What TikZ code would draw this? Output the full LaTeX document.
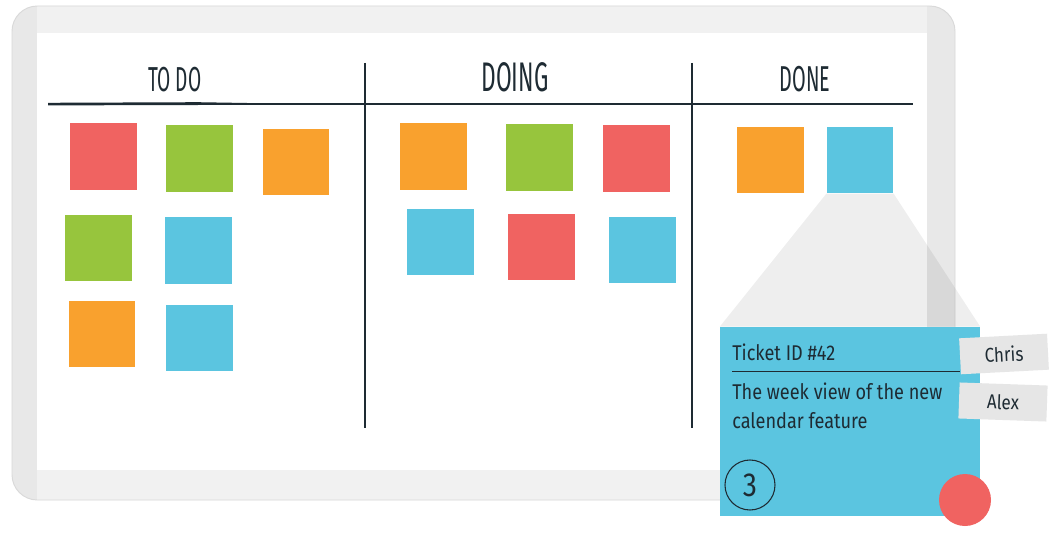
\documentclass[tikz,border=0pt]{standalone}
\usepackage{fontspec}
\setmainfont{Fira Sans}
\newfontfamily\headfont{Fira Sans}[FakeStretch=0.55]
\newfontfamily\cardfont{Fira Sans}[FakeStretch=0.85]
\definecolor{notered}{HTML}{F06361}
\definecolor{notegreen}{HTML}{97C53D}
\definecolor{noteorange}{HTML}{F9A12E}
\definecolor{noteblue}{HTML}{5BC5E0}
\definecolor{frame}{HTML}{F1F1F1}
\definecolor{frameside}{HTML}{E8E8E8}
\definecolor{tag}{HTML}{E6E6E6}
\definecolor{ink}{HTML}{1E2B33}
\begin{document}
\begin{tikzpicture}[x=0.75pt,y=-0.75pt,
  note/.style={fill=#1,minimum size=50pt,inner sep=0pt},
  heading/.style={text=ink,font=\headfont\fontsize{#1}{#1}\selectfont},
  tagbox/.style={fill=tag,minimum width=66pt,minimum height=27pt,inner sep=0pt,text=ink,font=\cardfont\fontsize{15}{15}\selectfont}]
\useasboundingbox[fill=white] (0,0) rectangle (1057,535);

% board
\fill[frameside,rounded corners=19pt] (12,6) rectangle (955,500);
\fill[frame] (37,6) rectangle (927,500);
\fill[white] (37,33) rectangle (927,470);
\draw[black!15,line width=0.7pt,rounded corners=19pt] (12,6) rectangle (955,500);

% columns
\node[heading=26] (todo) at (175,80) {TO DO};
\node[heading=31] (doing) at (515,77) {DOING};
\node[heading=27] (done) at (805,79) {DONE};
\coordinate (rulel) at (48,104);
\coordinate (ruler) at (913,104);
\draw[ink,line width=0.8pt] (rulel) -- (ruler);
\fill[ink] (rulel) ++(0,-1.2) -- ++(150,-0.6) -- ++(110,1.8) -- ++(-110,1) -- ++(-150,0.4) -- cycle;
\draw[ink,line width=1.1pt] (365,63) -- (365,428);
\draw[ink,line width=1.1pt] (692,63) -- (692,428);

% to do
\node[note=notered] (t1) at (103.5,156.5) {};
\node[note=notegreen] (t2) at (199.5,158.5) {};
\node[note=noteorange] (t3) at (296,162) {};
\node[note=notegreen] (t4) at (98.5,248) {};
\node[note=noteblue] (t5) at (198.5,250.5) {};
\node[note=noteorange] (t6) at (102,334) {};
\node[note=noteblue] (t7) at (199.5,338) {};

% doing
\node[note=noteorange] (g1) at (433.5,156.5) {};
\node[note=notegreen] (g2) at (539.5,157.5) {};
\node[note=notered] (g3) at (636.5,158.5) {};
\node[note=noteblue] (g4) at (440.5,242) {};
\node[note=notered] (g5) at (541.5,247) {};
\node[note=noteblue] (g6) at (642.5,250) {};

% done
\node[note=noteorange] (d1) at (770.5,160) {};
\node[note=noteblue] (d2) at (860,160) {};

% ticket
\node[fill=noteblue,minimum width=195pt,minimum height=141.75pt,inner sep=0pt] (card) at (850,421.5) {};
\fill[black,fill opacity=0.065] (d2.south west) -- (d2.south east) -- (card.north east) -- (card.north west) -- cycle;
\node[anchor=west,inner sep=0pt,text=ink,font=\cardfont\fontsize{16}{16}\selectfont] (ticketid) at (732,352) {Ticket ID \#42};
\draw[ink,line width=0.7pt] (732,371) -- (960,371);
\node[anchor=north west,inner sep=0pt,align=left,text=ink,font=\cardfont\fontsize{16}{21.75}\selectfont] (title) at (732,383) {The week view of the new\\calendar feature};
\node[circle,draw=ink,line width=0.8pt,minimum size=37.5pt,inner sep=0pt,text=ink,font=\cardfont\fontsize{25}{25}\selectfont] (points) at (750,485) {3};
\fill[notered] (965,500) circle (19.5pt);
\node[tagbox,rotate=3] (chris) at (1004,354) {Chris};
\node[tagbox,rotate=-2] (alex) at (1003,402) {Alex};
\end{tikzpicture}
\end{document}
